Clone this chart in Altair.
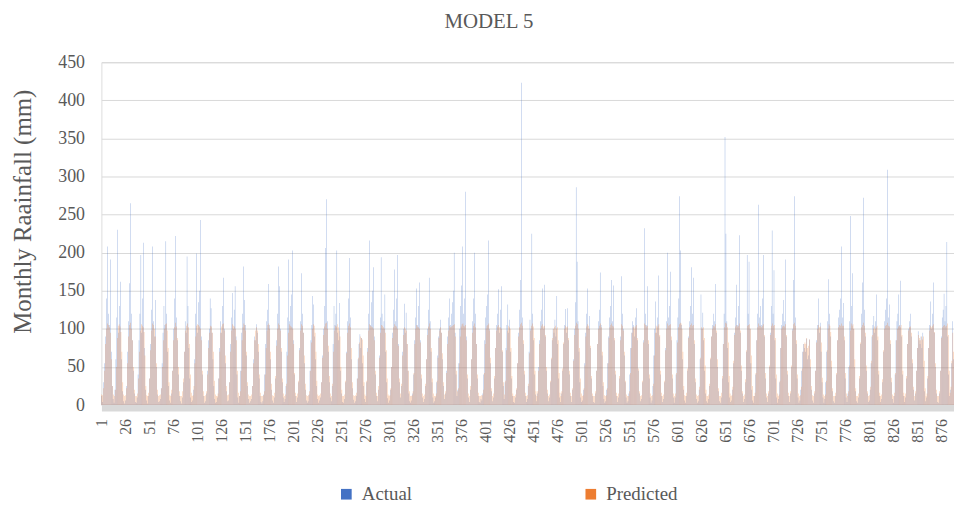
import altair as alt
import pandas as pd

# Monthly actual rainfall (mm), 12 values per row
actual_rows = [
    [12, 4, 30, 55, 90, 140, 208, 120, 105, 191, 70, 25],
    [8, 3, 20, 60, 115, 230, 95, 130, 162, 60, 18, 5],
    [2, 6, 25, 70, 110, 160, 265, 120, 85, 45, 15, 4],
    [3, 10, 40, 85, 120, 197, 95, 140, 213, 75, 20, 6],
    [2, 12, 35, 80, 125, 208, 110, 90, 138, 50, 14, 4],
    [5, 8, 22, 55, 95, 130, 105, 215, 120, 70, 25, 6],
    [3, 15, 45, 100, 140, 222, 115, 85, 40, 12, 5, 2],
    [10, 30, 70, 110, 95, 195, 130, 75, 35, 10, 4, 6],
    [20, 60, 120, 199, 95, 135, 150, 243, 90, 40, 12, 3],
    [5, 15, 45, 85, 100, 140, 127, 95, 60, 25, 8, 3],
    [4, 10, 35, 75, 110, 95, 130, 167, 100, 55, 18, 5],
    [6, 30, 80, 115, 147, 100, 125, 156, 90, 40, 10, 3],
    [12, 45, 95, 120, 182, 138, 105, 65, 25, 8, 3, 5],
    [8, 25, 60, 90, 85, 106, 95, 70, 35, 12, 4, 2],
    [5, 14, 40, 80, 110, 125, 159, 105, 60, 20, 6, 3],
    [10, 35, 85, 120, 182, 156, 100, 70, 30, 10, 4, 8],
    [25, 70, 115, 191, 110, 130, 145, 203, 85, 40, 12, 4],
    [10, 30, 75, 110, 173, 120, 95, 55, 20, 6, 3, 5],
    [14, 45, 85, 105, 143, 132, 90, 60, 25, 8, 3, 6],
    [10, 30, 65, 100, 130, 206, 270, 110, 70, 30, 10, 5],
    [25, 80, 130, 105, 120, 203, 95, 85, 134, 45, 15, 4],
    [3, 8, 30, 70, 110, 140, 193, 115, 60, 22, 7, 3],
    [5, 12, 35, 60, 80, 93, 75, 88, 55, 25, 8, 4],
    [30, 75, 120, 216, 105, 135, 150, 181, 90, 40, 12, 5],
    [20, 65, 115, 194, 120, 100, 110, 145, 70, 30, 9, 3],
    [6, 20, 50, 95, 125, 178, 110, 140, 197, 80, 30, 10],
    [25, 70, 100, 133, 95, 121, 80, 45, 15, 5, 3, 6],
    [15, 40, 85, 115, 153, 105, 130, 161, 85, 35, 10, 4],
    [8, 25, 60, 100, 125, 167, 110, 70, 30, 10, 3, 5],
    [10, 30, 65, 90, 100, 112, 95, 60, 25, 8, 15, 45],
    [90, 115, 140, 105, 120, 135, 150, 200, 95, 40, 12, 20],
    [55, 100, 130, 157, 208, 120, 140, 280, 90, 35, 10, 4],
    [20, 60, 110, 140, 200, 120, 80, 35, 12, 4, 3, 8],
    [6, 15, 40, 85, 115, 130, 145, 216, 100, 55, 18, 5],
    [10, 35, 75, 105, 120, 152, 95, 125, 156, 70, 25, 8],
    [30, 75, 105, 132, 95, 112, 70, 35, 12, 4, 3, 10],
    [20, 55, 95, 125, 164, 423, 115, 80, 40, 12, 4, 8],
    [25, 70, 112, 100, 225, 120, 85, 40, 14, 5, 15, 50],
    [85, 110, 125, 153, 100, 158, 90, 45, 15, 5, 10, 30],
    [60, 85, 100, 95, 112, 90, 143, 80, 35, 10, 4, 15],
    [45, 80, 105, 126, 95, 127, 85, 40, 12, 4, 20, 60],
    [100, 135, 286, 188, 110, 70, 30, 10, 4, 6, 20, 55],
    [95, 120, 153, 100, 117, 75, 35, 12, 4, 3, 15, 45],
    [80, 110, 125, 174, 105, 65, 25, 8, 3, 5, 20, 55],
    [90, 115, 130, 164, 110, 157, 85, 40, 12, 4, 10, 35],
    [90, 169, 120, 100, 65, 30, 10, 3, 5, 15, 40, 75],
    [95, 110, 105, 90, 115, 127, 85, 45, 15, 5, 8, 30],
    [85, 232, 120, 105, 156, 80, 35, 10, 3, 6, 25, 65],
    [100, 136, 95, 115, 170, 90, 40, 12, 4, 8, 30, 75],
    [110, 200, 115, 130, 175, 85, 35, 10, 3, 10, 40, 85],
    [115, 140, 274, 203, 105, 60, 20, 6, 3, 12, 45, 90],
    [110, 130, 181, 120, 167, 80, 30, 8, 3, 5, 20, 60],
    [145, 100, 121, 85, 45, 15, 5, 3, 8, 25, 60, 90],
    [105, 120, 110, 159, 95, 50, 18, 5, 3, 10, 35, 80],
    [120, 352, 225, 110, 75, 30, 10, 4, 6, 20, 55, 95],
    [115, 158, 105, 130, 223, 95, 45, 15, 4, 8, 30, 70],
    [197, 120, 188, 100, 55, 20, 6, 3, 12, 40, 85, 120],
    [263, 115, 130, 105, 140, 197, 90, 35, 10, 4, 15, 50],
    [95, 130, 229, 120, 177, 85, 35, 10, 3, 8, 30, 75],
    [105, 120, 138, 110, 191, 90, 40, 12, 4, 15, 50, 100],
    [164, 274, 115, 80, 35, 10, 3, 6, 20, 45, 70, 80],
    [75, 70, 87, 60, 65, 86, 50, 20, 6, 3, 15, 45],
    [85, 105, 140, 95, 108, 70, 30, 10, 3, 8, 30, 70],
    [110, 165, 120, 90, 50, 18, 5, 3, 12, 40, 85, 115],
    [125, 140, 208, 115, 134, 85, 35, 10, 4, 15, 50, 110],
    [248, 130, 173, 100, 50, 18, 5, 3, 10, 35, 80, 120],
    [161, 272, 125, 90, 45, 15, 4, 6, 20, 55, 90, 105],
    [117, 95, 110, 145, 85, 40, 12, 4, 8, 30, 70, 110],
    [125, 140, 309, 115, 132, 80, 30, 8, 3, 12, 40, 85],
    [110, 120, 145, 105, 163, 90, 40, 12, 4, 10, 35, 80],
    [100, 110, 120, 90, 55, 20, 6, 15, 45, 75, 97, 85],
    [80, 90, 75, 95, 50, 18, 5, 10, 35, 75, 105, 136],
    [100, 120, 161, 95, 50, 15, 4, 3, 15, 45, 90, 115],
    [125, 146, 110, 130, 214, 90, 40, 12, 20, 55, 110, 60],
]

# Model 5 predicted rainfall (mm), 12 values per row
predicted_rows = [
    [14, 13, 22, 45, 80, 100, 107, 105, 102, 95, 60, 25],
    [14, 12, 20, 50, 88, 104, 106, 103, 96, 70, 30, 14],
    [12, 13, 22, 55, 90, 105, 108, 100, 85, 50, 20, 12],
    [12, 15, 35, 70, 98, 106, 104, 102, 96, 65, 25, 13],
    [12, 16, 35, 72, 98, 107, 105, 100, 90, 55, 20, 12],
    [13, 14, 22, 50, 85, 100, 106, 107, 98, 75, 30, 13],
    [12, 20, 45, 85, 102, 108, 103, 88, 50, 18, 12, 12],
    [18, 35, 70, 98, 104, 107, 102, 80, 40, 16, 12, 13],
    [25, 55, 90, 104, 106, 105, 103, 100, 85, 45, 18, 12],
    [13, 18, 40, 75, 95, 104, 103, 95, 70, 32, 14, 12],
    [12, 15, 35, 70, 95, 103, 106, 107, 98, 65, 25, 13],
    [14, 30, 70, 98, 106, 104, 103, 100, 85, 45, 16, 12],
    [18, 45, 85, 102, 107, 105, 98, 70, 30, 14, 12, 12],
    [14, 25, 55, 85, 98, 102, 98, 80, 40, 16, 12, 12],
    [13, 18, 40, 75, 98, 105, 107, 100, 70, 28, 13, 12],
    [16, 38, 78, 100, 107, 105, 98, 75, 35, 15, 12, 14],
    [28, 65, 95, 106, 104, 103, 102, 100, 80, 42, 16, 12],
    [15, 32, 72, 98, 106, 104, 95, 65, 28, 13, 12, 13],
    [18, 45, 82, 100, 106, 104, 95, 70, 32, 14, 12, 13],
    [15, 30, 62, 92, 103, 107, 108, 100, 78, 38, 15, 12],
    [28, 70, 98, 104, 103, 106, 102, 98, 90, 50, 20, 12],
    [12, 14, 32, 68, 95, 104, 107, 102, 75, 30, 13, 12],
    [13, 16, 35, 62, 82, 90, 88, 86, 65, 30, 14, 12],
    [32, 70, 98, 106, 104, 103, 102, 100, 85, 45, 16, 12],
    [25, 62, 95, 105, 104, 102, 100, 95, 72, 35, 14, 12],
    [13, 22, 50, 88, 102, 106, 104, 103, 100, 78, 35, 15],
    [28, 65, 92, 102, 100, 98, 80, 45, 18, 12, 12, 13],
    [18, 42, 80, 100, 105, 103, 102, 100, 82, 40, 15, 12],
    [14, 28, 60, 92, 103, 107, 100, 75, 35, 15, 12, 12],
    [15, 32, 62, 88, 98, 102, 95, 68, 30, 14, 18, 42],
    [80, 98, 104, 102, 103, 104, 105, 106, 90, 45, 18, 22],
    [55, 90, 103, 106, 107, 104, 103, 105, 85, 40, 15, 12],
    [25, 60, 95, 104, 107, 102, 80, 40, 16, 12, 12, 13],
    [13, 20, 42, 80, 100, 104, 105, 107, 98, 62, 22, 12],
    [15, 38, 75, 98, 103, 105, 102, 102, 100, 72, 30, 14],
    [32, 72, 98, 104, 102, 100, 75, 38, 15, 12, 12, 14],
    [22, 55, 90, 102, 106, 108, 104, 85, 45, 16, 12, 13],
    [28, 68, 98, 104, 107, 103, 88, 45, 18, 12, 18, 45],
    [80, 100, 104, 106, 103, 104, 92, 50, 20, 12, 14, 32],
    [62, 88, 100, 102, 104, 100, 102, 85, 42, 16, 12, 18],
    [48, 82, 100, 104, 102, 103, 88, 45, 16, 12, 22, 58],
    [92, 104, 108, 106, 100, 75, 35, 15, 12, 13, 22, 52],
    [90, 103, 106, 104, 100, 78, 38, 15, 12, 12, 18, 45],
    [80, 100, 104, 107, 102, 70, 30, 13, 12, 13, 22, 55],
    [88, 102, 105, 107, 104, 103, 88, 45, 16, 12, 15, 38],
    [85, 106, 104, 98, 70, 32, 14, 12, 12, 18, 42, 75],
    [95, 102, 103, 100, 103, 105, 88, 48, 18, 12, 13, 32],
    [82, 107, 105, 103, 104, 85, 40, 15, 12, 13, 28, 65],
    [95, 104, 102, 104, 106, 92, 45, 16, 12, 14, 32, 72],
    [100, 107, 104, 105, 106, 90, 40, 15, 12, 15, 42, 82],
    [102, 106, 108, 107, 100, 70, 25, 13, 12, 16, 48, 88],
    [102, 105, 107, 104, 105, 85, 35, 14, 12, 13, 24, 62],
    [102, 100, 102, 88, 52, 20, 12, 12, 14, 28, 62, 90],
    [100, 104, 103, 106, 98, 60, 22, 12, 12, 16, 38, 80],
    [102, 108, 107, 102, 82, 38, 15, 12, 13, 24, 58, 92],
    [103, 105, 103, 104, 107, 98, 52, 18, 12, 14, 34, 72],
    [104, 105, 106, 100, 65, 25, 12, 12, 16, 42, 85, 102],
    [107, 104, 104, 102, 104, 106, 92, 42, 15, 12, 18, 52],
    [92, 104, 107, 104, 105, 88, 40, 15, 12, 14, 32, 75],
    [100, 103, 104, 103, 106, 92, 45, 16, 12, 18, 52, 98],
    [106, 108, 104, 85, 40, 15, 12, 13, 24, 48, 70, 80],
    [82, 80, 88, 75, 78, 86, 60, 25, 13, 12, 18, 45],
    [82, 100, 105, 102, 103, 82, 36, 14, 12, 14, 32, 72],
    [100, 106, 104, 96, 58, 22, 12, 12, 16, 42, 85, 102],
    [105, 104, 107, 104, 104, 90, 42, 15, 12, 18, 52, 98],
    [107, 104, 106, 100, 60, 22, 12, 12, 15, 38, 82, 102],
    [105, 108, 104, 95, 52, 18, 12, 13, 24, 58, 92, 100],
    [103, 100, 102, 104, 90, 45, 16, 12, 14, 34, 72, 100],
    [104, 105, 108, 104, 103, 85, 36, 14, 12, 16, 42, 85],
    [100, 103, 104, 102, 105, 92, 45, 16, 12, 15, 38, 80],
    [98, 102, 103, 95, 60, 24, 12, 18, 45, 75, 92, 88],
    [85, 90, 86, 90, 58, 22, 12, 15, 38, 75, 98, 104],
    [102, 104, 106, 96, 55, 20, 12, 12, 18, 45, 88, 102],
    [104, 105, 103, 104, 107, 92, 45, 16, 24, 58, 95, 70],
]

series_names = ["Actual", "Predicted"]
series_colors = ["#4472C4", "#ED7D31"]
x_tick_labels = [1, 26, 51, 76, 101, 126, 151, 176, 201, 226, 251, 276, 301,
                 326, 351, 376, 401, 426, 451, 476, 501, 526, 551, 576, 601,
                 626, 651, 676, 701, 726, 751, 776, 801, 826, 851, 876]
y_ticks = [0, 50, 100, 150, 200, 250, 300, 350, 400, 450]
chart_title = ["MODEL 5"]

actual = [v for row in actual_rows for v in row]
predicted = [v for row in predicted_rows for v in row]
months = list(range(1, len(actual) + 1))

df = pd.DataFrame({
    "Month": months + months,
    "Series": ["Actual"] * len(actual) + ["Predicted"] * len(predicted),
    "Rainfall": actual + predicted,
})

FONT = "Liberation Serif"
GRAY = "#595959"

bars = (
    alt.Chart(df)
    .mark_bar()
    .encode(
        x=alt.X(
            "Month:O",
            scale=alt.Scale(domain=months, paddingInner=0.5, paddingOuter=0),
            axis=alt.Axis(
                values=x_tick_labels, labelAngle=270, labelFont=FONT,
                labelFontSize=16, labelColor=GRAY, ticks=False,
                domainColor="#d9d9d9", domainWidth=7, offset=2.5,
                labelPadding=11, title=None, grid=False, labelOverlap=False,
            ),
        ),
        xOffset=alt.XOffset(
            "Series:N", scale=alt.Scale(domain=series_names, paddingInner=0)
        ),
        y=alt.Y(
            "Rainfall:Q",
            scale=alt.Scale(domain=[0, 450], nice=False),
            axis=alt.Axis(
                values=y_ticks, title="Monthly Raainfall (mm)", titleFont=FONT,
                titleFontSize=25, titleColor=GRAY, titleFontWeight="normal",
                titleAngle=270, titleX=-79, titleY=150, titleAlign="center",
                titleBaseline="middle", labelFont=FONT, labelFontSize=18,
                labelColor=GRAY, labelPadding=17, ticks=False, domain=False,
                grid=True, gridColor="#d9d9d9", gridWidth=1,
            ),
        ),
        color=alt.Color(
            "Series:N",
            scale=alt.Scale(domain=series_names, range=series_colors),
            legend=alt.Legend(
                orient="none", legendX=237, legendY=425, direction="horizontal",
                title=None, labelFont=FONT, labelFontSize=19, labelColor=GRAY,
                symbolType="square", symbolSize=115, symbolStrokeWidth=0,
                labelOffset=6, columnPadding=170, padding=0,
            ),
        ),
    )
)

title_text = (
    alt.Chart(pd.DataFrame({"title": chart_title}))
    .mark_text(font=FONT, fontSize=21, color=GRAY, align="center",
               baseline="middle")
    .encode(text="title:N", x=alt.value(390), y=alt.value(-40))
)

chart = (
    alt.layer(bars, title_text)
    .properties(
        width=858,
        height=345,
        padding={"left": 94, "top": 53, "right": 0, "bottom": 97},
        autosize=alt.AutoSizeParams(type="none"),
    )
    .configure_view(stroke=None)
    .configure(background="white")
)

chart.save("out.html", embed_options={"renderer": "svg", "actions": False})
